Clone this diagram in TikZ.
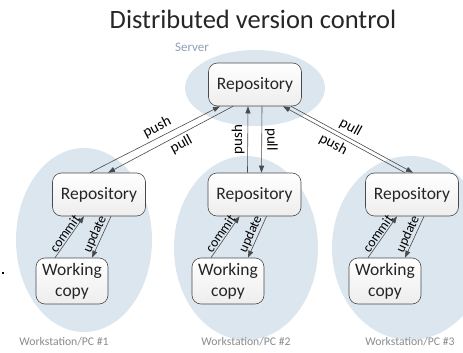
\documentclass[tikz,border=0pt]{standalone}
\usepackage{fontspec}
\setmainfont{Carlito}
\usetikzlibrary{positioning, arrows.meta}
\definecolor{cloud}{HTML}{DCE6EF}
\definecolor{rim}{HTML}{4A4A4A}
\definecolor{caption}{HTML}{8A8A8A}
\definecolor{srvtext}{HTML}{8FA0B4}

\begin{document}
\begin{tikzpicture}[x=1pt, y=-1pt,
  box/.style={draw=rim, line width=0.6pt, rounded corners=9pt, top color=white,
    bottom color=gray!14, align=center, inner sep=1pt, text=black!85},
  repo/.style={box, minimum width=93pt, minimum height=43pt, font=\fontsize{17.5}{19}\selectfont},
  wcopy/.style={box, minimum width=72pt, minimum height=46pt, font=\fontsize{17.5}{21}\selectfont},
  link/.style={draw=rim, line width=0.6pt, -{Triangle[length=7pt, width=5pt]}},
  tag/.style={font=\fontsize{15}{15}\selectfont, inner sep=3pt},
  place/.style={text=caption, font=\fontsize{11.7}{12}\selectfont}]
  \useasboundingbox (0,0) rectangle (463,353);

  % Clouds
  \fill[cloud] (255,88) ellipse [x radius=70pt, y radius=38pt];
  \fill[cloud] (84,240) ellipse [x radius=68pt, y radius=92pt];
  \fill[cloud] (246,248) ellipse [x radius=72pt, y radius=92pt];
  \fill[cloud] (410,248) ellipse [x radius=78pt, y radius=92pt];
  \fill (2,272) rectangle (4,274);

  % Captions
  \node[font=\fontsize{26.5}{27}\selectfont, text=black!85] (title) at (253,19) {Distributed version control};
  \node[text=srvtext, font=\fontsize{13}{13}\selectfont] (server) at (192,47) {Server};
  \node[place] (ws1) at (64,342) {Workstation/PC \#1};
  \node[place] (ws2) at (246,342) {Workstation/PC \#2};
  \node[place] (ws3) at (410,342) {Workstation/PC \#3};

  % Repositories
  \node[repo] (srv) at (255,84.5) {Repository};
  \node[repo] (repoL) at (99,194.5) {Repository};
  \node[repo] (repoM) at (254.5,194.5) {Repository};
  \node[repo] (repoR) at (412,194.5) {Repository};

  % Working copies
  \node[wcopy] (wcL) at (72,281) {Working\\copy};
  \node[wcopy] (wcM) at (228,281) {Working\\copy};
  \node[wcopy] (wcR) at (385,281) {Working\\copy};

  % Push and pull
  \draw[link] ([xshift=-9pt]repoL.north) -- ([xshift=-35pt]srv.south)
    node[tag, sloped, pos=0.55, above] {push};
  \draw[link] ([xshift=-22pt]srv.south) -- ([xshift=9pt]repoL.north)
    node[tag, sloped, pos=0.45, below] {pull};
  \draw[link] ([xshift=-7pt]repoM.north) -- ([xshift=-7pt]srv.south)
    node[tag, midway, rotate=90, anchor=south] {push};
  \draw[link] ([xshift=7pt]srv.south) -- ([xshift=7pt]repoM.north)
    node[tag, midway, rotate=-90, anchor=south] {pull};
  \draw[link] ([xshift=-7pt]repoR.north) -- ([xshift=28pt]srv.south)
    node[tag, sloped, pos=0.55, below] {push};
  \draw[link] ([xshift=36pt]srv.south) -- ([xshift=1pt]repoR.north)
    node[tag, sloped, pos=0.45, above] {pull};

  % Commit and update
  \foreach \r/\w in {repoL/wcL, repoM/wcM, repoR/wcR}{
    \draw[link] ([xshift=-17pt]\w.north) -- ([xshift=-15pt]\r.south)
      node[tag, sloped, midway, above, inner sep=1pt, font=\fontsize{13.5}{14}\selectfont] {commit};
    \draw[link] ([xshift=12pt]\r.south) -- ([xshift=20pt]\w.north)
      node[tag, sloped, midway, above, inner sep=1pt, font=\fontsize{13.5}{14}\selectfont] {update};
  }
\end{tikzpicture}
\end{document}
